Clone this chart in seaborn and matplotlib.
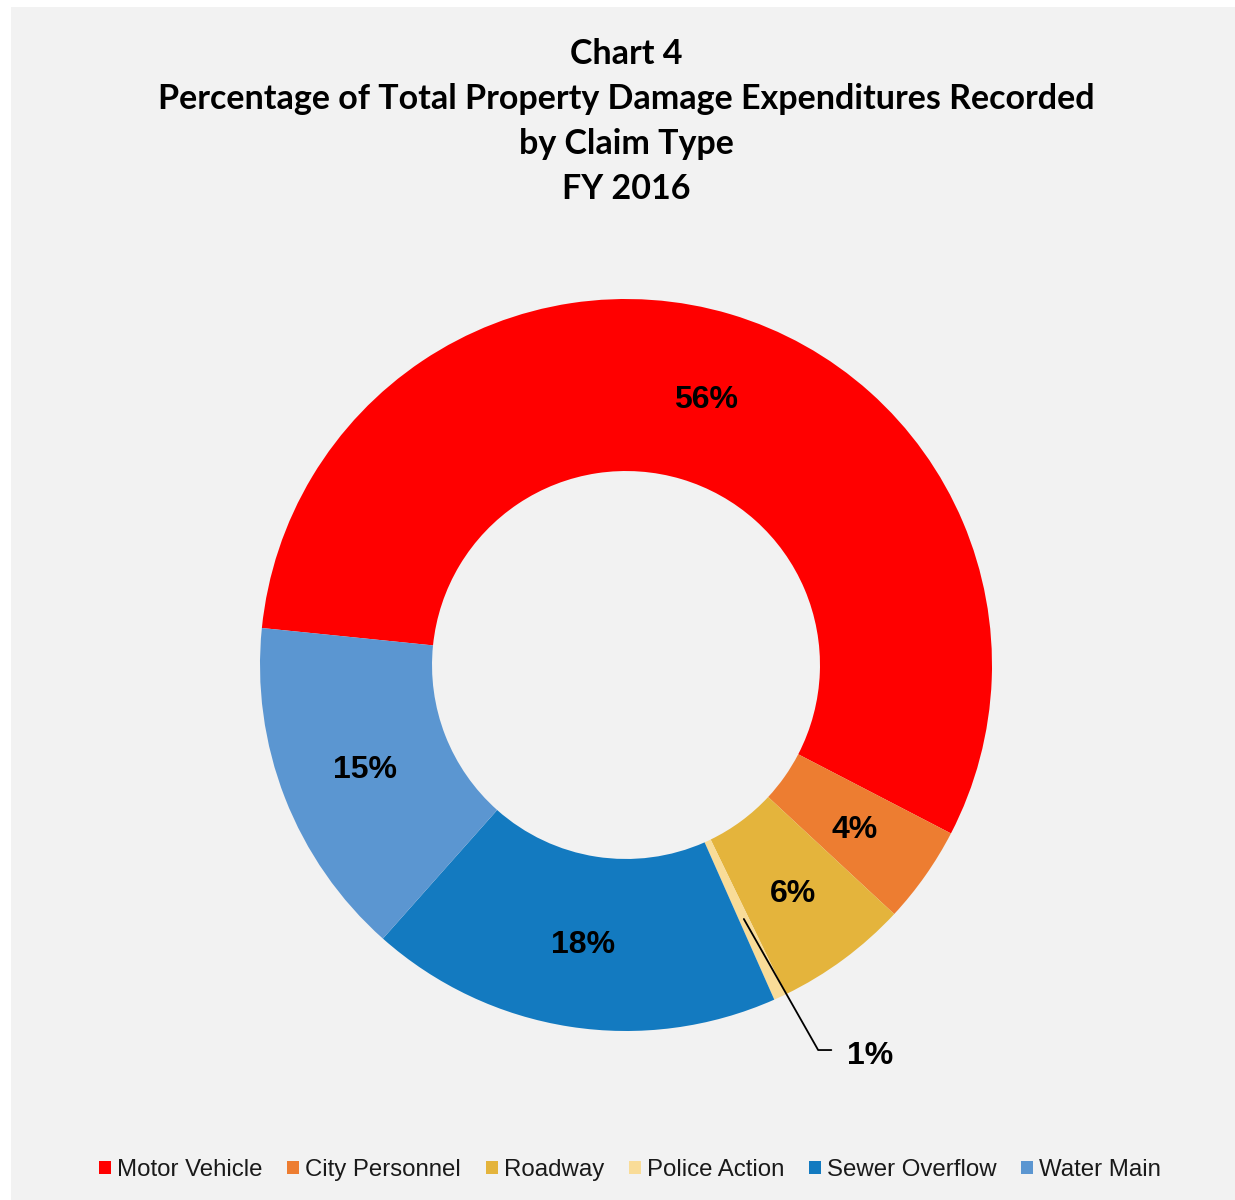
import numpy as np
import matplotlib
matplotlib.use("Agg")
import matplotlib.pyplot as plt
from matplotlib.patches import Rectangle
import seaborn as sns

# data (share of property damage expenditures, %)
claim_types = ["Motor Vehicle", "City Personnel", "Roadway", "Police Action",
               "Sewer Overflow", "Water Main"]
shares = [56.0, 4.3, 5.9, 0.55, 18.2, 15.05]
colors = ["#FF0000", "#ED7D31", "#E4B43C", "#F9DC98", "#137AC0", "#5B96D1"]
title_lines = ["Chart 4",
               "Percentage of Total Property Damage Expenditures Recorded",
               "by Claim Type",
               "FY 2016"]

sns.set_theme(style="white")
plt.rcParams['font.family'] = ['Liberation Sans', 'DejaVu Sans']
plt.rcParams['text.color'] = 'black'

W, H = 1235, 1200
fig = plt.figure(figsize=(W / 100, H / 100), dpi=100)
fig.patch.set_facecolor("white")
# grey chart area with a small white margin at left/top
fig.patches.append(Rectangle((11 / W, 0), 1 - 11 / W, 1 - 7 / H,
                             transform=fig.transFigure, facecolor="#F2F2F2",
                             edgecolor="none", zorder=-10))

# axes placed so the donut centre sits at (626, 665) px with radius 366 px
R = 366
lim = 1.25
cx, cy = 626, H - 665
ax = fig.add_axes([(cx - lim * R) / W, (cy - lim * R) / H,
                   2 * lim * R / W, 2 * lim * R / H])
ax.set_facecolor("none")

wedges, texts, autotexts = ax.pie(
    shares, colors=colors, startangle=174.2, counterclock=False,
    autopct=lambda p: f"{p:.0f}%", pctdistance=0.765,
    wedgeprops=dict(width=0.47, edgecolor="none"),
    textprops=dict(fontsize=23, fontweight="bold", color="black"))
ax.set_xlim(-lim, lim)
ax.set_ylim(-lim, lim)
ax.set_aspect("equal")
ax.axis("off")
for t in autotexts:
    t.set_va("center_baseline")

# small slice: label outside with leader line
i = claim_types.index("Police Action")
w = wedges[i]
ang = np.deg2rad((w.theta1 + w.theta2) / 2)
px, py = 0.765 * np.cos(ang), 0.765 * np.sin(ang)
tx, ty = 0.603, -1.058
ax.plot([px, tx - 0.078, tx - 0.042], [py, ty + 0.006, ty + 0.006],
        color="black", lw=1.3)
autotexts[i].set_position((tx, ty))
autotexts[i].set_ha("left")

for k, line in enumerate(title_lines):
    fig.text(626 / W, 1 - (54 + 45 * k) / H, line, ha="center", va="center",
             fontsize=24.5, fontweight="bold", color="black",
             family=["Lato", "DejaVu Sans"])

leg = fig.legend(wedges, claim_types, loc="center",
                 bbox_to_anchor=(630 / W, 30 / H), ncol=6, frameon=False,
                 fontsize=17.3, handlelength=0.5, handleheight=0.5,
                 handletextpad=0.25, columnspacing=1.03, borderaxespad=0)
for t in leg.get_texts():
    t.set_color("#1a1a1a")

fig.savefig("out.png", dpi=100, facecolor=fig.get_facecolor())
